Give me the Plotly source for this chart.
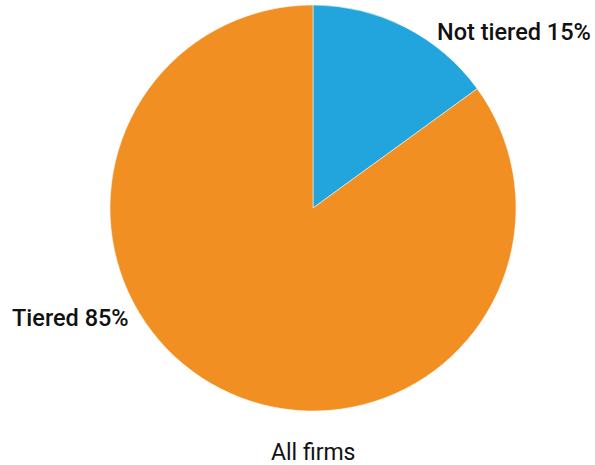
import plotly.graph_objects as go

labels = ["Not tiered", "Tiered"]
values = [15, 85]
colors = ["#22A5DD", "#F18F22"]
title_text = "All firms"

W, H = 595, 465
cx, cy, r = 313, 208, 203

fig = go.Figure(go.Pie(
    labels=labels, values=values, sort=False, direction="clockwise", rotation=0,
    marker=dict(colors=colors, line=dict(color="white", width=0.5)),
    textinfo="none", hoverinfo="label+percent", showlegend=False,
    domain=dict(x=[(cx - r) / W, (cx + r) / W], y=[1 - (cy + r) / H, 1 - (cy - r) / H]),
))

lab_font = dict(family="Roboto", size=23.5, color="#111", weight=500)
fig.add_annotation(x=593 / W, y=1 - 32 / H, xref="paper", yref="paper", xanchor="right", yanchor="middle",
                   text=f"{labels[0]} {values[0]}%", showarrow=False, font=lab_font)
fig.add_annotation(x=10 / W, y=1 - 318 / H, xref="paper", yref="paper", xanchor="left", yanchor="middle",
                   text=f"{labels[1]} {values[1]}%", showarrow=False, font=lab_font)
fig.add_annotation(x=cx / W, y=1 - 452 / H, xref="paper", yref="paper", xanchor="center", yanchor="middle",
                   text=title_text, showarrow=False,
                   font=dict(family="Roboto", size=23, color="#111"))

fig.update_layout(width=W, height=H, margin=dict(l=0, r=0, t=0, b=0),
                  paper_bgcolor="white", plot_bgcolor="white")
fig.write_html("out.html")
